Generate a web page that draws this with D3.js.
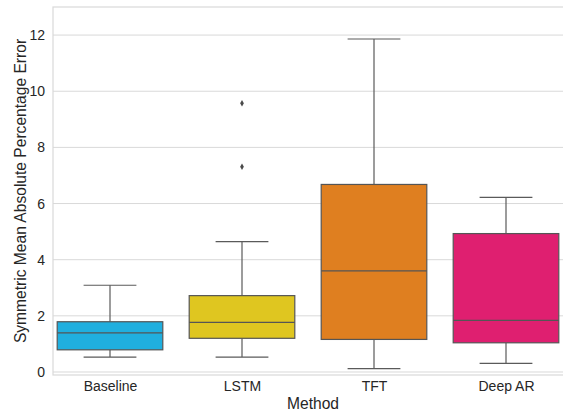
<!DOCTYPE html>
<html>
<head>
<meta charset="utf-8">
<script src="https://cdn.jsdelivr.net/npm/d3@7"></script>
<style>
  body { margin: 0; background: #fff; }
  text { font-family: "Liberation Sans", Arial, sans-serif; fill: #262626; }
</style>
</head>
<body>
<div id="chart"></div>
<script>
// categories and five-number summaries
var methods = ["Baseline", "LSTM", "TFT", "Deep AR"];
var whiskerLow = [0.53, 0.53, 0.12, 0.31];
var q1 = [0.79, 1.20, 1.16, 1.04];
var medians = [1.39, 1.77, 3.60, 1.84];
var q3 = [1.79, 2.72, 6.68, 4.93];
var whiskerHigh = [3.09, 4.64, 11.86, 6.22];
var outliers = [[], [9.57, 7.31], [], []];
var colors = ["#20afdf", "#dfc620", "#df7f20", "#df1f70"];
var yTicks = [0, 2, 4, 6, 8, 10, 12];

var width = 563, height = 412;
var plotLeft = 53, plotTop = 7, plotBottom = 375;

var svg = d3.select("#chart")
  .append("svg")
    .attr("width", width)
    .attr("height", height);

var x = d3.scalePoint()
  .domain(methods)
  .range([110, 506]);
var step = x.step();
var boxW = step * 0.8;

var y = d3.scaleLinear()
  .domain([-0.107, 13.0])
  .range([plotBottom, plotTop]);

// grid lines
svg.append("g")
  .selectAll("line")
  .data(yTicks)
  .enter().append("line")
    .attr("x1", plotLeft).attr("x2", width + 10)
    .attr("y1", function(d) { return y(d); })
    .attr("y2", function(d) { return y(d); })
    .attr("stroke", "#d9d9d9")
    .attr("stroke-width", 1);

// frame
svg.append("rect")
  .attr("x", plotLeft).attr("y", plotTop)
  .attr("width", width + 20 - plotLeft)
  .attr("height", plotBottom - plotTop)
  .attr("fill", "none")
  .attr("stroke", "#d9d9d9")
  .attr("stroke-width", 1.2);

// y axis
var yAxis = svg.append("g")
  .attr("transform", "translate(" + plotLeft + ",0)")
  .call(d3.axisLeft(y).tickValues(yTicks).tickSize(0).tickPadding(8));
yAxis.select(".domain").remove();
yAxis.selectAll("text")
  .attr("font-size", "14px")
  .attr("font-family", "Liberation Sans, Arial, sans-serif")
  .attr("fill", "#262626");

// x axis
var xAxis = svg.append("g")
  .attr("transform", "translate(0," + plotBottom + ")")
  .call(d3.axisBottom(x).tickSize(0).tickPadding(6));
xAxis.select(".domain").remove();
xAxis.selectAll("text")
  .attr("font-size", "14px")
  .attr("font-family", "Liberation Sans, Arial, sans-serif")
  .attr("fill", "#262626");

// axis titles
svg.append("text")
  .attr("x", (plotLeft + width) / 2 + 5)
  .attr("y", 409)
  .attr("text-anchor", "middle")
  .attr("font-size", "15.6px")
  .text("Method");

svg.append("text")
  .attr("transform", "translate(26," + ((plotTop + plotBottom) / 2) + ") rotate(-90)")
  .attr("text-anchor", "middle")
  .attr("font-size", "15.6px")
  .text("Symmetric Mean Absolute Percentage Error");

// boxes
var boxes = svg.append("g")
  .selectAll("g")
  .data(methods)
  .enter().append("g");

boxes.append("line")
  .attr("x1", function(d) { return x(d); })
  .attr("x2", function(d) { return x(d); })
  .attr("y1", function(d, i) { return y(whiskerLow[i]); })
  .attr("y2", function(d, i) { return y(q1[i]); })
  .attr("stroke", "#5a5a5a").attr("stroke-width", 1.2);

boxes.append("line")
  .attr("x1", function(d) { return x(d); })
  .attr("x2", function(d) { return x(d); })
  .attr("y1", function(d, i) { return y(q3[i]); })
  .attr("y2", function(d, i) { return y(whiskerHigh[i]); })
  .attr("stroke", "#5a5a5a").attr("stroke-width", 1.2);

[whiskerLow, whiskerHigh].forEach(function(arr) {
  boxes.append("line")
    .attr("x1", function(d) { return x(d) - boxW / 4; })
    .attr("x2", function(d) { return x(d) + boxW / 4; })
    .attr("y1", function(d, i) { return y(arr[i]); })
    .attr("y2", function(d, i) { return y(arr[i]); })
    .attr("stroke", "#5a5a5a").attr("stroke-width", 1.2);
});

boxes.append("rect")
  .attr("x", function(d) { return x(d) - boxW / 2; })
  .attr("y", function(d, i) { return y(q3[i]); })
  .attr("width", boxW)
  .attr("height", function(d, i) { return y(q1[i]) - y(q3[i]); })
  .attr("fill", function(d, i) { return colors[i]; })
  .attr("stroke", "#555")
  .attr("stroke-width", 1.2);

boxes.append("line")
  .attr("x1", function(d) { return x(d) - boxW / 2; })
  .attr("x2", function(d) { return x(d) + boxW / 2; })
  .attr("y1", function(d, i) { return y(medians[i]); })
  .attr("y2", function(d, i) { return y(medians[i]); })
  .attr("stroke", "#555").attr("stroke-width", 1.2);

// outliers as small diamonds
boxes.each(function(d, i) {
  d3.select(this).selectAll("path.flier")
    .data(outliers[i])
    .enter().append("path")
      .attr("class", "flier")
      .attr("d", d3.symbol().type(d3.symbolDiamond).size(12))
      .attr("transform", function(v) { return "translate(" + x(d) + "," + y(v) + ")"; })
      .attr("fill", "#4a4a4a");
});
</script>
</body>
</html>
